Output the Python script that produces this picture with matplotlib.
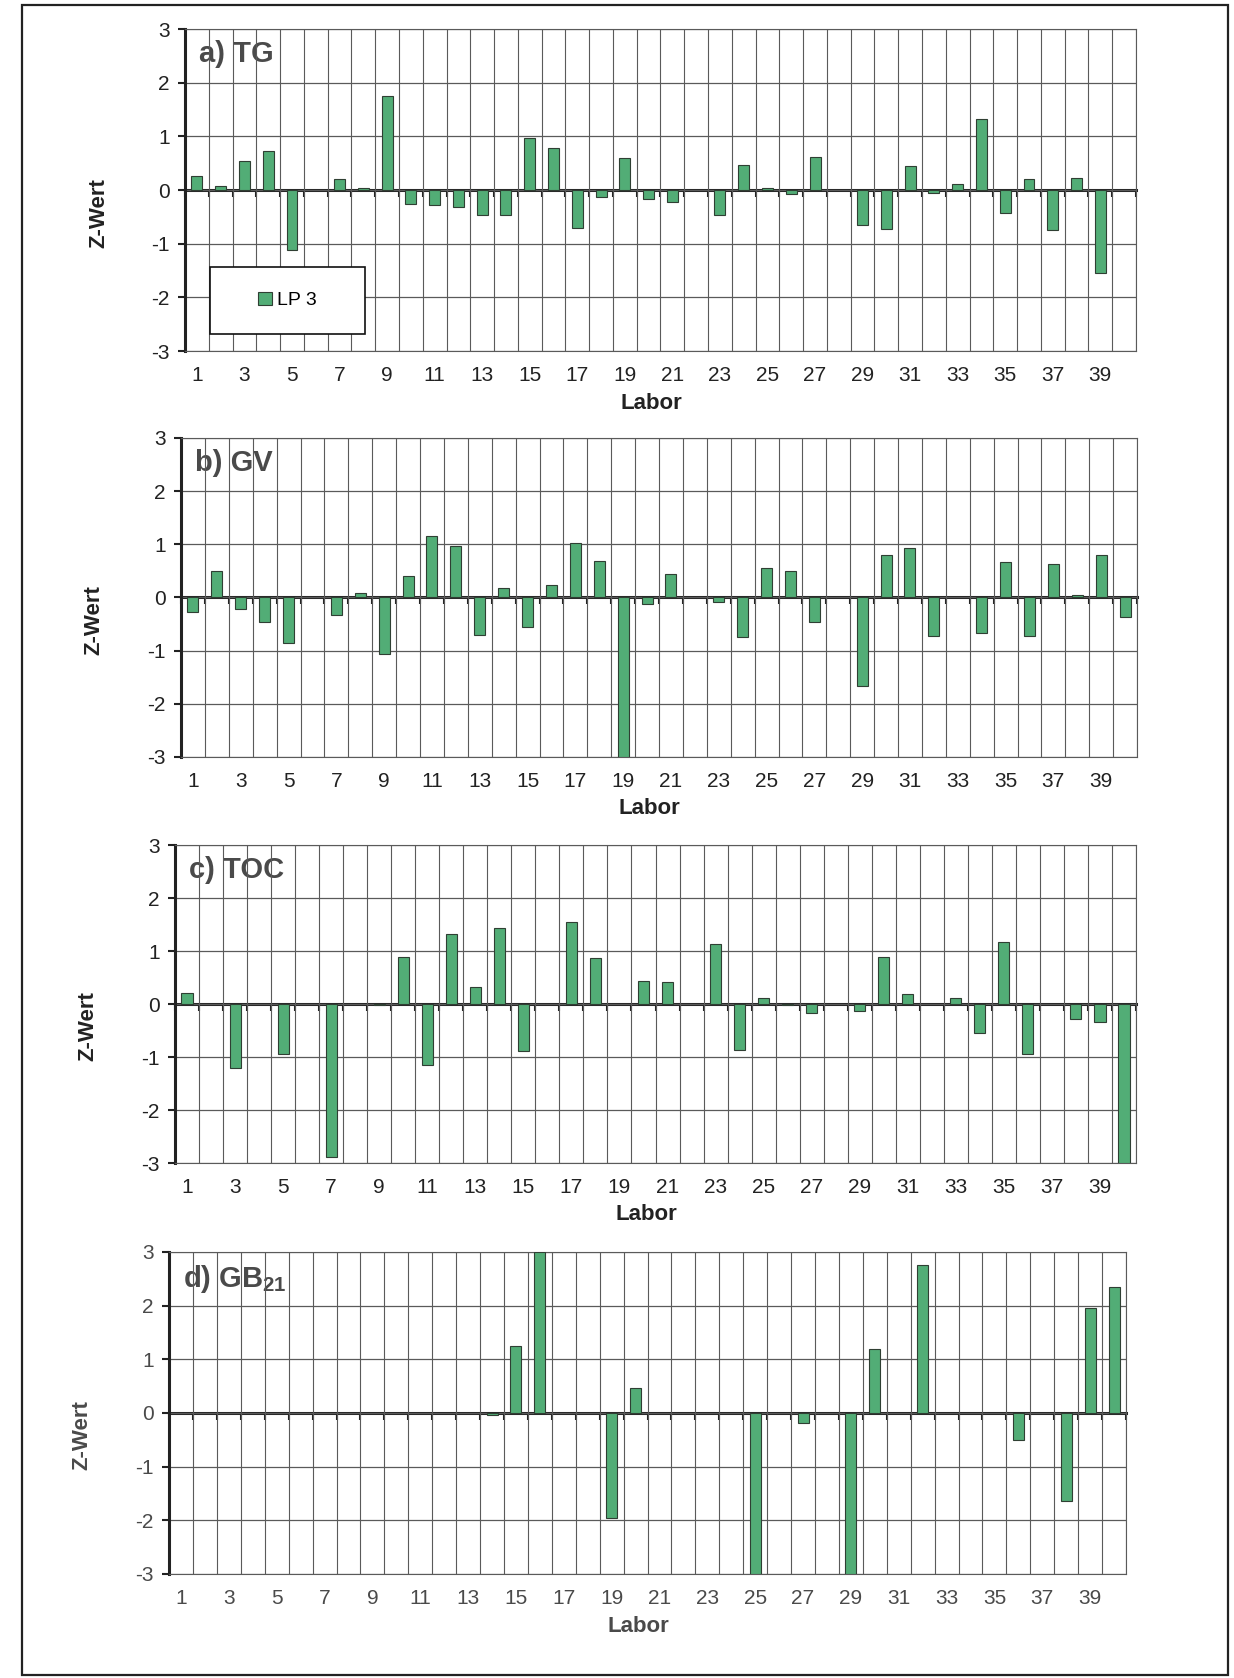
import numpy as np
import matplotlib
matplotlib.use("Agg")
import matplotlib.pyplot as plt
from matplotlib.patches import Rectangle

plt.rcParams['font.family'] = ['Liberation Sans', 'DejaVu Sans']
plt.rcParams['mathtext.fontset'] = 'custom'
plt.rcParams['mathtext.rm'] = 'Liberation Sans'
plt.rcParams['mathtext.bf'] = 'Liberation Sans:bold'
plt.rcParams['axes.unicode_minus'] = False

nan = np.nan
labs = np.arange(1, 41)
tick_labs = np.arange(1, 40, 2)

# z-scores per lab (nan = no bar)
tg = [0.26, 0.08, 0.54, 0.72, -1.12, nan, 0.20, 0.03, 1.75, -0.26,
      -0.27, -0.31, -0.46, -0.47, 0.97, 0.78, -0.71, -0.13, 0.59, -0.17,
      -0.22, nan, -0.46, 0.46, 0.03, -0.08, 0.61, nan, -0.66, -0.73,
      0.45, -0.05, 0.12, 1.32, -0.42, 0.20, -0.74, 0.22, -1.54, nan]
gv = [-0.27, 0.50, -0.22, -0.47, -0.86, nan, -0.33, 0.09, -1.06, 0.41,
      1.16, 0.97, -0.71, 0.18, -0.55, 0.24, 1.02, 0.68, -3.0, -0.13,
      0.44, nan, -0.08, -0.75, 0.55, 0.50, -0.46, nan, -1.66, 0.80,
      0.93, -0.73, nan, -0.66, 0.66, -0.73, 0.63, 0.05, 0.80, -0.37]
toc = [0.21, nan, -1.20, nan, -0.95, nan, -2.88, nan, -0.02, 0.88,
       -1.15, 1.32, 0.33, 1.44, -0.89, nan, 1.55, 0.86, nan, 0.44,
       0.41, nan, 1.14, -0.86, 0.11, -0.02, -0.16, nan, -0.14, 0.88,
       0.19, nan, 0.11, -0.54, 1.17, -0.94, nan, -0.29, -0.33, -3.0]
gb21 = [nan, nan, nan, nan, nan, nan, nan, nan, nan, nan,
        nan, nan, nan, -0.03, 1.25, 3.0, nan, nan, -1.95, 0.47,
        nan, nan, nan, nan, -3.0, nan, -0.18, nan, -3.0, 1.19,
        nan, 2.75, nan, nan, nan, -0.51, nan, -1.64, 1.96, 2.34]

panels = [
    ("a) TG", tg, [0.1499, 0.7908, 0.7707, 0.1919], '#222222'),
    ("b) GV", gv, [0.1467, 0.5489, 0.7747, 0.1901], '#222222'),
    ("c) TOC", toc, [0.1418, 0.3069, 0.7788, 0.1895], '#222222'),
    (r"d) GB$_{\mathbf{21}}$", gb21, [0.1370, 0.0620, 0.7755, 0.1919], '#4a4a4a'),
]

bar_color = '#52ad76'
grid_color = '#5a5a5a'

fig = plt.figure(figsize=(12.34, 16.78), dpi=100)

# scanned page frame
fig.patches.append(Rectangle((0.018, 0.002), 0.977, 0.995, transform=fig.transFigure,
                             fill=False, edgecolor='#222222', linewidth=1.6))

for i, (title, values, rect, txt_color) in enumerate(panels):
    ax = fig.add_axes(rect)
    ax.bar(labs, values, width=0.46, color=bar_color, edgecolor='#2f3f33',
           linewidth=0.8, label="LP 3", zorder=3)
    ax.set_xlim(0.5, 40.5)
    ax.set_ylim(-3, 3)
    ax.set_yticks(np.arange(-3, 4, 1))
    ax.set_xticks(tick_labs)
    ax.set_xticks(np.arange(0.5, 41, 1), minor=True)
    ax.grid(True, axis='y', which='major', color=grid_color, linewidth=0.9, zorder=0)
    ax.grid(True, axis='x', which='minor', color=grid_color, linewidth=0.8, zorder=0)
    ax.tick_params(axis='x', which='both', length=0, labelsize=15, pad=11, colors=txt_color)
    ax.tick_params(axis='y', length=5, width=1.5, labelsize=15, pad=6,
                   color='#222222', labelcolor=txt_color)
    for side in ['top', 'right', 'bottom']:
        ax.spines[side].set_color(grid_color)
        ax.spines[side].set_linewidth(0.8)
    ax.spines['left'].set_color('#222222')
    ax.spines['left'].set_linewidth(2.2)

    # zero axis with tick marks between categories
    zero_ax = ax.secondary_xaxis(0, transform=ax.transData)
    zero_ax.set_xticks(np.arange(0.5, 41, 1))
    zero_ax.set_xticklabels([])
    zero_ax.tick_params(length=5, width=1.5, color='#222222', direction='out')
    zero_ax.spines['bottom'].set_linewidth(2.2)
    zero_ax.spines['bottom'].set_color('#222222')

    ax.set_xlabel("Labor", fontsize=16, fontweight='bold', color=txt_color)
    ax.xaxis.set_label_coords(0.49, -0.13)
    ax.set_ylabel("Z-Wert", fontsize=16, fontweight='bold', color=txt_color)
    ax.yaxis.set_label_coords(-0.08, 0.43)

    ax.text(0.015, 0.965, title, transform=ax.transAxes, ha='left', va='top',
            fontsize=21, fontweight='bold', color='#4a4a4a', zorder=1)

    if i == 0:
        ax.add_patch(Rectangle((0.026, 0.053), 0.163, 0.208, transform=ax.transAxes,
                               facecolor='white', edgecolor='#111111', linewidth=1.2,
                               zorder=4))
        leg = ax.legend(loc='center', bbox_to_anchor=(0.1075, 0.157), frameon=False,
                        fontsize=14, handlelength=0.7, handleheight=0.7,
                        handletextpad=0.25)
        leg.set_zorder(5)

fig.savefig("out.png", dpi=100)
